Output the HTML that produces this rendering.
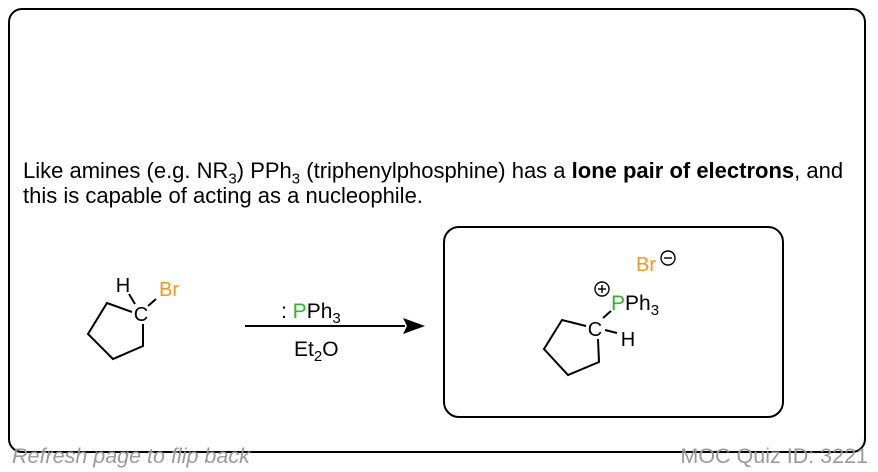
<!DOCTYPE html>
<html><head><style>
body{margin:0;width:878px;height:472px;background:#fff;overflow:hidden;font-family:"Liberation Sans",Arial,sans-serif;}
.frame{position:absolute;left:8px;top:8px;width:858px;height:445px;border:2px solid #000;border-radius:14px;box-sizing:border-box;}
.txt{position:absolute;left:23px;top:158px;font-size:22px;line-height:25px;color:#000;white-space:nowrap;}
.foot{position:absolute;top:444px;font-size:21.5px;line-height:24px;color:#999;font-style:italic;}
</style></head><body>
<div class="frame"></div>
<div class="txt">Like amines (e.g. NR<sub style="font-size:15px;line-height:0">3</sub>) PPh<sub style="font-size:15px;line-height:0">3</sub> (triphenylphosphine) has a <b>lone pair of electrons</b>, and<br>this is capable of acting as a nucleophile.</div>
<div class="foot" style="left:12px">Refresh page to flip back</div>
<div class="foot" style="right:10px;font-style:normal">MOC Quiz ID: 3221</div>
<svg width="878" height="472" style="position:absolute;left:0;top:0" font-family="Liberation Sans,Arial,sans-serif">
<g stroke="#000" stroke-width="2" fill="none">
<polyline points="132,312 107,303 88,334 113,359 143,346 143,324"/>
<line x1="129" y1="294" x2="135" y2="304"/>
<line x1="148" y1="306" x2="156" y2="299"/>
<line x1="245" y1="326" x2="405" y2="326"/>
<rect x="444" y="227" width="339" height="190" rx="15" ry="15"/>
<polyline points="586,326 562,320 544,349 568,375 599,362 598,339"/>
<line x1="603" y1="318" x2="611" y2="311"/>
<line x1="605" y1="330" x2="617" y2="333"/>
</g>
<polygon points="425,326 403,318 407,326 403,334" fill="#000"/>
<g font-size="20" text-anchor="middle">
<text x="141" y="321">C</text>
<text x="123" y="292">H</text>
<text x="169" y="296" fill="#f7941d">Br</text>
<text x="595" y="336">C</text>
<text x="628" y="346">H</text>
<text x="646" y="271" fill="#f7941d">Br</text>
</g>
<text x="281" y="318" font-size="21">: <tspan fill="#2db52d">P</tspan>Ph<tspan font-size="15" dy="5">3</tspan></text>
<text x="294" y="356" font-size="21">Et<tspan font-size="15" dy="5">2</tspan><tspan dy="-5">O</tspan></text>
<text x="611" y="310" font-size="21"><tspan fill="#2db52d">P</tspan>Ph<tspan font-size="15" dy="5">3</tspan></text>
<g stroke="#000" stroke-width="1.4" fill="none">
<circle cx="668" cy="258" r="7"/><line x1="664" y1="258" x2="672" y2="258"/>
<circle cx="602" cy="289" r="7"/><line x1="598" y1="289" x2="606" y2="289"/><line x1="602" y1="285" x2="602" y2="293"/>
</g>
</svg>
</body></html>
